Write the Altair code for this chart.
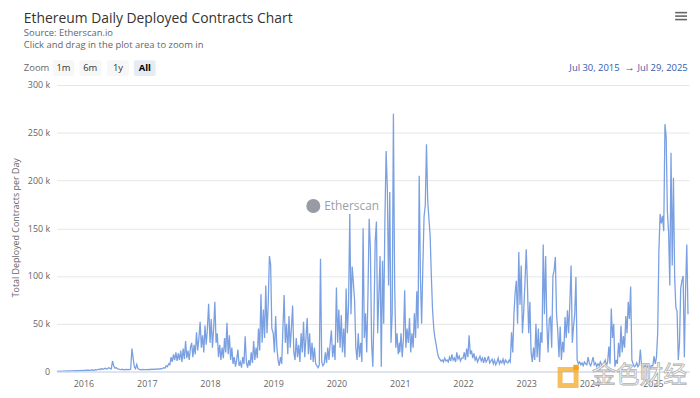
import altair as alt
import pandas as pd

TITLE = "Ethereum Daily Deployed Contracts Chart"
SUBTITLE_1 = "Source: Etherscan.io"
SUBTITLE_2 = "Click and drag in the plot area to zoom in"
RANGE_FROM = "Jul 30, 2015"
RANGE_ARROW = "\u2192"
RANGE_TO = "Jul 29, 2025"
Y_TITLE = "Total Deployed Contracts per Day"
ZOOM_LABEL = "Zoom"
ZOOM_BUTTONS = ["1m", "6m", "1y", "All"]
YEARS = [2016, 2017, 2018, 2019, 2020, 2021, 2022, 2023, 2024, 2025]
Y_TICKS = [0, 50000, 100000, 150000, 200000, 250000, 300000]
WATERMARK = "Etherscan"
SITE_MARK = "\u91d1\u8272\u8d22\u7ecf"

# weekly readings of contracts deployed per day, in thousands
k2015 = [0.1, 0.2, 0.1, 0.3, 0.2, 0.3, 0.4, 0.3, 0.5, 0.4, 0.6, 0.5, 0.7, 0.6, 0.8,
         0.7, 0.9, 0.8, 1.0, 0.9, 1.1, 1.0, 1.2]
k2016 = [1.0, 1.2, 1.1, 1.3, 1.5, 1.2, 1.4, 1.6, 1.3, 1.5, 1.8, 1.6, 2.0,
         2.5, 2.0, 3.0, 2.2, 2.8, 3.5, 2.5, 3.0, 4.0, 3.2, 2.8,
         11, 6, 3.5, 4, 3, 2.5,
         2.2, 2.0, 2.4, 1.8, 2.0, 2.2, 1.9, 2.1, 2.0, 2.3,
         24, 14, 5, 3, 7.5, 3,
         2.2, 2.0, 1.8, 2.1, 1.9, 2.0]
k2017 = [2.0, 2.2, 1.8, 2.5, 2.1, 2.4, 2.0, 2.6, 2.3, 2.8, 2.5, 3.0, 2.7, 3.2,
         4, 3.5, 6, 5, 8, 7,
         15, 10, 18, 12, 20, 11, 19, 12, 22, 10, 24, 13, 32, 14, 22, 12,
         25, 30, 15, 28, 18, 41, 22, 35, 52, 25, 38, 20, 48, 28, 45, 71]
k2018 = [30, 55, 25, 45, 73, 30, 40, 15, 28, 12, 25, 14, 35, 20, 51, 18,
         38, 12, 25, 8, 15, 5, 12, 23, 6, 10, 4, 15, 8, 37, 10, 4,
         12, 6, 20, 9, 32, 12, 25, 14, 45, 22, 81, 30, 65, 35, 90, 40,
         70, 121, 112, 45]
k2019 = [40, 20, 58, 25, 12, 6, 15, 8, 45, 80, 30, 50, 18, 58, 25, 45,
         69, 20, 12, 35, 15, 28, 10, 40, 20, 52, 15, 35, 56, 18, 40, 12,
         30, 10, 25, 8, 6, 4, 7, 118, 10, 6, 8, 20, 9, 25, 12, 30,
         43, 15, 28, 12]
k2020 = [88, 30, 65, 25, 59, 20, 45, 15, 87, 40, 70, 165, 60, 110, 93, 74,
         25, 12, 40, 15, 30, 10, 150, 35, 61, 20, 80, 160, 129, 30, 5, 60,
         137, 157, 40, 80, 121, 5, 116, 50, 160, 231, 191, 90, 188, 30, 60, 270,
         93, 25, 40, 18, 30]
k2021 = [20, 40, 15, 35, 85, 25, 45, 30, 56, 20, 40, 25, 61, 35, 84, 45,
         205, 99, 50, 110, 162, 174, 238, 179, 160, 143, 100, 65, 45, 35, 28, 20,
         15, 13, 11, 12, 10, 14, 11, 12, 10, 15, 11, 18, 12, 14, 10, 20,
         13, 16, 11, 14]
k2022 = [14, 20, 12, 24, 15, 38, 18, 22, 14, 19, 12, 15, 10, 13, 16, 11,
         14, 9, 15, 10, 12, 16, 9, 11, 13, 8, 12, 7, 10, 14, 8, 11,
         9, 13, 8, 12, 10, 9, 12, 10, 41, 20, 60, 83, 95, 50, 125, 70,
         111, 40, 61, 90]
k2023 = [128, 90, 40, 73, 20, 10, 25, 12, 50, 15, 45, 10, 41, 30, 133, 60,
         121, 50, 20, 55, 57, 25, 100, 106, 120, 60, 43, 15, 47, 12, 31, 20,
         57, 35, 64, 40, 73, 111, 30, 47, 60, 99, 12, 8, 10, 7, 9, 6,
         10, 8, 7, 15]
k2024 = [8, 6, 10, 15, 7, 9, 5, 8, 6, 10, 7, 5, 9, 12, 6, 10,
         26, 8, 66, 35, 50, 5, 12, 8, 30, 15, 48, 20, 37, 25, 58, 40,
         73, 55, 89, 12, 8, 5, 6, 9, 5, 7, 23, 6, 4, 5, 6, 4,
         5, 7, 4, 6]
k2025 = [6, 16, 8, 15, 40, 126, 165, 155, 163, 147, 259, 246, 167, 146, 90, 229,
         111, 203, 99, 67, 63, 12, 30, 87, 95, 100, 15, 85, 133, 60]

series = [("2015-07-30", k2015), ("2016-01-01", k2016), ("2017-01-01", k2017),
          ("2018-01-01", k2018), ("2019-01-01", k2019), ("2020-01-01", k2020),
          ("2021-01-01", k2021), ("2022-01-01", k2022), ("2023-01-01", k2023),
          ("2024-01-01", k2024), ("2025-01-01", k2025)]

frames = []
for start, vals in series:
    d = pd.date_range(start, periods=len(vals), freq="7D")
    frames.append(pd.DataFrame({"date": d.strftime("%Y-%m-%d"),
                                "value": [v * 1000 for v in vals]}))
df = pd.concat(frames, ignore_index=True)

FONT = "Open Sans"
LINE_COLOR = "#7aa0e2"
GREY = "#666666"

x_enc = alt.X(
    "date:T",
    scale=alt.Scale(type="utc",
                    domain=[alt.DateTime(year=2015, month=7, date=30, utc=True),
                            alt.DateTime(year=2025, month=7, date=29, utc=True)]),
    axis=alt.Axis(values=[alt.DateTime(year=y, month=1, date=1, utc=True) for y in YEARS],
                  format="%Y", title=None, grid=False, ticks=False,
                  domainColor="#ccd6eb", domainWidth=1, labelPadding=8,
                  labelColor=GREY, labelFontSize=9, labelFont=FONT),
)
y_enc = alt.Y(
    "value:Q",
    scale=alt.Scale(domain=[0, 300000], nice=False),
    axis=alt.Axis(values=Y_TICKS, title=None, grid=True, gridColor="#e6e6e6",
                  domain=False, ticks=False, labelPadding=7, labelColor=GREY,
                  labelFontSize=9, labelFont=FONT,
                  labelExpr="datum.value == 0 ? '0' : (datum.value / 1000) + ' k'"),
)

line = alt.Chart(df).mark_line(color=LINE_COLOR, strokeWidth=1.3, clip=True).encode(
    x=x_enc, y=y_enc)


def text_layer(txt, x, y, size, color, align="left", weight="normal", font=FONT, angle=0, **kw):
    return alt.Chart(pd.DataFrame({"t": [txt]})).mark_text(
        align=align, baseline="middle", fontSize=size, color=color,
        fontWeight=weight, font=font, angle=angle, **kw
    ).encode(x=alt.value(x), y=alt.value(y), text="t:N")


layers = [line]
# titles
layers.append(text_layer(TITLE, -33, -67, 14, "#333333"))
layers.append(text_layer(SUBTITLE_1, -33, -52, 9.5, GREY))
layers.append(text_layer(SUBTITLE_2, -33, -40, 9.5, GREY))
# zoom row
layers.append(text_layer(ZOOM_LABEL, -33, -17, 9.5, GREY))
btn_centers = [7, 34, 62, 89]
for lab, cx in zip(ZOOM_BUTTONS, btn_centers):
    sel = lab == "All"
    layers.append(alt.Chart(pd.DataFrame({"t": [lab]})).mark_rect(
        color="#e6ebf5" if sel else "#f7f7f7", cornerRadius=2).encode(
        x=alt.value(cx - 11), x2=alt.value(cx + 11),
        y=alt.value(-25), y2=alt.value(-9)))
    layers.append(text_layer(lab, cx, -17, 9.5, "#000000" if sel else "#333333",
                             align="center", weight="bold" if sel else "normal"))
layers.append(text_layer(RANGE_FROM, 568, -17, 9.5, "#335cad", align="right"))
layers.append(text_layer(RANGE_ARROW, 578, -17, 10.5, "#335cad", align="center"))
layers.append(text_layer(RANGE_TO, 586, -17, 9.5, "#335cad", align="left"))
# y title
layers.append(text_layer(Y_TITLE, -41, 144, 9, GREY, align="center", angle=270))
# menu icon
for yy in [-73, -69.5, -66]:
    layers.append(alt.Chart(pd.DataFrame({"a": [0]})).mark_rule(
        color=GREY, strokeWidth=1.6).encode(
        x=alt.value(624), x2=alt.value(636), y=alt.value(yy)))
# Etherscan watermark
layers.append(alt.Chart(pd.DataFrame({"a": [0]})).mark_point(
    shape="circle", filled=True, size=200, color="#7d828c", opacity=0.8).encode(
    x=alt.value(259), y=alt.value(122)))
layers.append(text_layer(WATERMARK, 270, 122, 12, "#8a8f99", opacity=0.85))
# site watermark
layers.append(alt.Chart(pd.DataFrame({"a": [0]})).mark_point(
    shape="square", filled=False, size=260, strokeWidth=5, color="#f5a31a").encode(
    x=alt.value(516), y=alt.value(295)))
layers.append(alt.Chart(pd.DataFrame({"a": [0]})).mark_point(
    shape="square", filled=True, size=30, color="#f5a31a", opacity=1).encode(
    x=alt.value(524), y=alt.value(285)))
layers.append(text_layer(SITE_MARK, 540, 294, 24, "#ffffff", font="Noto Sans CJK SC",
                         stroke="#b0b0b0", strokeWidth=0.8))

chart = alt.layer(*layers).properties(
    width=638, height=289,
    padding={"left": 49, "top": 76, "right": 3, "bottom": 18},
    autosize=alt.AutoSizeParams(type="none"),
    background="#ffffff",
).configure_view(stroke=None)

chart.save("out.html", embed_options={"renderer": "svg", "actions": False})
